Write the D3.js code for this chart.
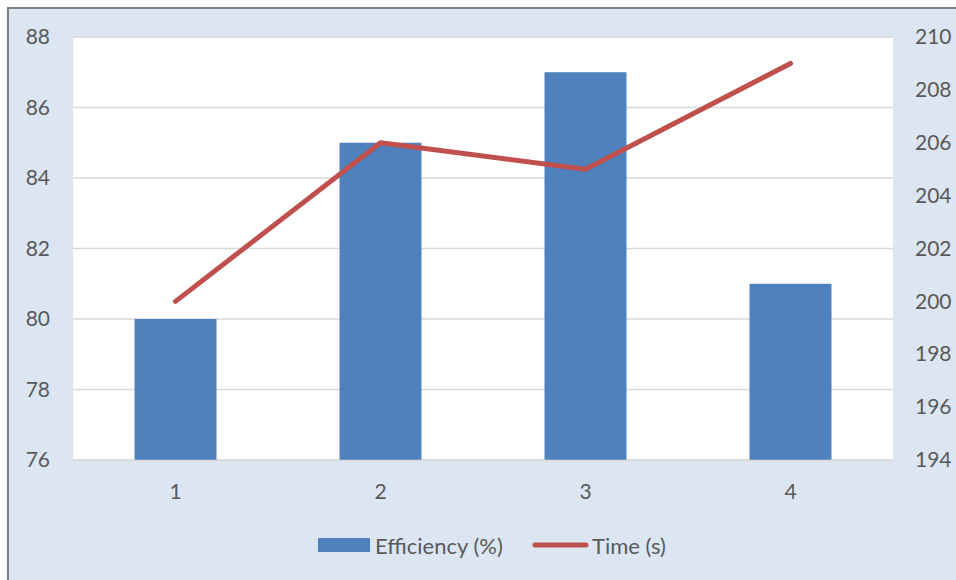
<!DOCTYPE html>
<html>
<head>
<meta charset="utf-8">
<script src="https://cdn.jsdelivr.net/npm/d3@7"></script>
<style>
  html, body { margin: 0; padding: 0; background: #fff; }
  svg { display: block; }
  text { font-family: Lato, "Open Sans", sans-serif; fill: #595959; }
</style>
</head>
<body>
<svg id="chart" width="956" height="580"></svg>
<script>
// Chart data
const categories = ["1", "2", "3", "4"];
const efficiency = [80, 85, 87, 81];
const timeSec = [200, 206, 205, 209];
const leftTicks = [76, 78, 80, 82, 84, 86, 88];
const rightTicks = [194, 196, 198, 200, 202, 204, 206, 208, 210];
const seriesNames = ["Efficiency (%)", "Time (s)"];

const W = 956, H = 580;
const plot = { left: 73, right: 893, top: 37, bottom: 460 };
const svg = d3.select("#chart");

// Chart background and frame
svg.append("rect").attr("x", 8).attr("y", 8).attr("width", W).attr("height", H)
  .attr("fill", "#dce6f2").attr("stroke", "#7f7f7f").attr("stroke-width", 2);

// Plot area
svg.append("rect")
  .attr("x", plot.left).attr("y", plot.top)
  .attr("width", plot.right - plot.left).attr("height", plot.bottom - plot.top)
  .attr("fill", "#ffffff");

const x = d3.scaleBand().domain(categories)
  .range([plot.left, plot.right]).paddingInner(0.6).paddingOuter(0.3);
const yL = d3.scaleLinear().domain([76, 88]).range([plot.bottom, plot.top]);
const yR = d3.scaleLinear().domain([194, 210]).range([plot.bottom, plot.top]);

// Gridlines
svg.append("g").selectAll("line").data(leftTicks).join("line")
  .attr("x1", plot.left).attr("x2", plot.right)
  .attr("y1", d => yL(d)).attr("y2", d => yL(d))
  .attr("stroke", "#d9d9d9").attr("stroke-width", 1.5);

// Bars
svg.append("g").selectAll("rect").data(efficiency).join("rect")
  .attr("x", (d, i) => x(categories[i]))
  .attr("width", x.bandwidth())
  .attr("y", d => yL(d))
  .attr("height", d => yL(76) - yL(d))
  .attr("fill", "#4f81bd");

// Line series
const line = d3.line()
  .x((d, i) => x(categories[i]) + x.bandwidth() / 2)
  .y(d => yR(d));
svg.append("path").datum(timeSec)
  .attr("d", line)
  .attr("fill", "none").attr("stroke", "#c0504d")
  .attr("stroke-width", 5).attr("stroke-linecap", "round").attr("stroke-linejoin", "round");

// Left axis
const axL = svg.append("g").attr("transform", `translate(${plot.left},0)`)
  .call(d3.axisLeft(yL).tickValues(leftTicks).tickSize(0).tickPadding(23));
axL.select(".domain").remove();

// Right axis
const axR = svg.append("g").attr("transform", `translate(${plot.right},0)`)
  .call(d3.axisRight(yR).tickValues(rightTicks).tickSize(0).tickPadding(22));
axR.select(".domain").remove();

// Bottom axis
const axB = svg.append("g").attr("transform", `translate(0,${plot.bottom})`)
  .call(d3.axisBottom(x).tickSize(0).tickPadding(24));
axB.select(".domain").attr("stroke", "#d9d9d9").attr("stroke-width", 1.5);

svg.selectAll(".tick text").style("font-size", "21px").attr("fill", "#595959")
  .style("font-family", "Lato, 'Open Sans', sans-serif");

// Legend
const lg = svg.append("g");
lg.append("rect").attr("x", 318).attr("y", 538).attr("width", 52).attr("height", 14).attr("fill", "#4f81bd");
lg.append("text").attr("x", 375).attr("y", 554).style("font-size", "22px").text(seriesNames[0]);
lg.append("line").attr("x1", 535).attr("x2", 586).attr("y1", 545).attr("y2", 545)
  .attr("stroke", "#c0504d").attr("stroke-width", 5).attr("stroke-linecap", "round");
lg.append("text").attr("x", 592).attr("y", 554).style("font-size", "22px").text(seriesNames[1]);
</script>
</body>
</html>
